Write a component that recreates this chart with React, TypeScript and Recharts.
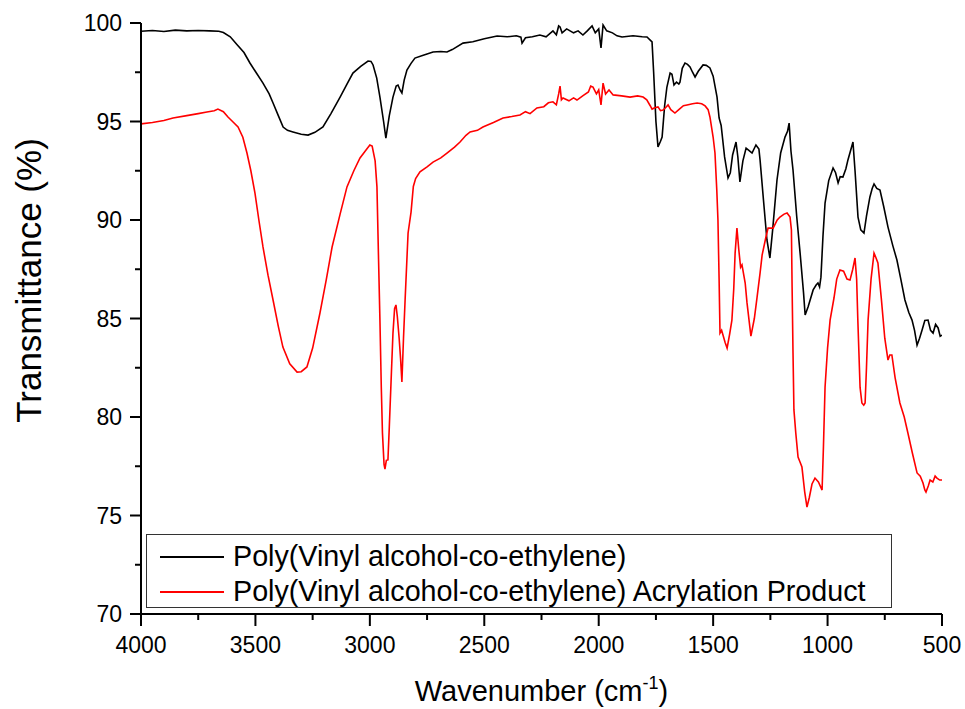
import { LineChart, Line, XAxis, YAxis, Legend } from "recharts";

// FTIR spectra (wavenumber in cm-1, transmittance in %)
const blackWave = [
  4000, 3950, 3900, 3850, 3800, 3750, 3700, 3660, 3640, 3610, 3580, 3550, 3524, 3495, 3467, 3440, 3423, 3400,
  3379, 3360, 3336, 3300, 3270, 3240, 3205, 3170, 3130, 3100, 3074, 3040, 3008, 2995, 2986, 2970, 2956, 2940,
  2930, 2915, 2899, 2885, 2877, 2868, 2860, 2850, 2838, 2820, 2803, 2770, 2724, 2690, 2663, 2640, 2593, 2550,
  2500, 2444, 2400, 2360, 2340, 2335, 2320, 2290, 2257, 2230, 2200, 2185, 2175, 2169, 2160, 2140, 2110, 2090,
  2069, 2050, 2029, 2015, 2000, 1990, 1981, 1965, 1940, 1920, 1898, 1850, 1810, 1789, 1767, 1760, 1750, 1741,
  1730, 1723, 1712, 1702, 1688, 1680, 1671, 1660, 1650, 1645, 1635, 1623, 1612, 1601, 1590, 1579, 1565, 1544,
  1530, 1514, 1500, 1483, 1474, 1465, 1450, 1435, 1425, 1415, 1400, 1392, 1383, 1370, 1356, 1340, 1330, 1313,
  1300, 1295, 1280, 1265, 1252, 1240, 1221, 1205, 1186, 1175, 1168, 1160, 1151, 1135, 1120, 1105, 1098, 1085,
  1063, 1050, 1042, 1035, 1029, 1020, 1011, 995, 976, 965, 954, 945, 933, 920, 911, 900, 889, 880, 867, 855,
  841, 830, 815, 805, 797, 785, 771, 755, 736, 715, 697, 680, 662, 645, 631, 620, 609, 598, 587, 575, 561, 550,
  539, 528, 517, 508, 500,
];
const blackT = [
  99.58, 99.62, 99.57, 99.64, 99.6, 99.62, 99.6, 99.58, 99.52, 99.3, 98.9, 98.5, 97.97, 97.45, 96.95, 96.4, 95.94, 95.3,
  94.72, 94.55, 94.47, 94.35, 94.31, 94.45, 94.72, 95.4, 96.24, 96.9, 97.46, 97.8, 98.07, 98.05, 97.87, 97.2, 96.24, 95.0,
  94.16, 95.3, 96.24, 96.8, 96.85, 96.6, 96.45, 97.1, 97.61, 97.95, 98.22, 98.35, 98.53, 98.55, 98.53, 98.65, 98.98, 99.05,
  99.2, 99.34, 99.3, 99.35, 99.28, 98.98, 99.25, 99.3, 99.39, 99.3, 99.6, 99.4, 99.85, 99.8, 99.5, 99.7, 99.5, 99.6,
  99.39, 99.6, 99.85, 99.5, 99.7, 98.73, 99.9, 99.6, 99.5, 99.35, 99.29, 99.35, 99.3, 99.29, 99.04, 97.5, 95.0, 93.71,
  94.0, 94.21, 95.8, 96.75, 97.46, 97.4, 96.85, 97.0, 96.9, 97.0, 97.7, 97.97, 97.9, 97.77, 97.5, 97.26, 97.55, 97.87,
  97.85, 97.72, 97.3, 96.24, 95.18, 94.8, 93.2, 92.13, 92.4, 93.3, 93.96, 93.2, 91.93, 93.0, 93.65, 93.5, 93.4, 93.81,
  93.6, 93.05, 91.0, 89.0, 88.07, 89.5, 92.03, 93.4, 94.21, 94.5, 94.92, 93.5, 92.54, 90.2, 88.32, 86.3, 85.18, 85.6,
  86.45, 86.7, 86.8, 86.6, 87.1, 89.2, 90.86, 92.0, 92.64, 92.4, 91.88, 92.2, 92.18, 92.6, 93.05, 93.5, 93.96, 92.5, 90.15, 89.5,
  89.34, 90.2, 91.17, 91.6, 91.83, 91.6, 91.52, 90.7, 89.64, 88.7, 87.97, 87.0, 85.94, 85.3, 84.92, 84.4, 83.65, 84.0, 84.42, 84.9, 84.92, 84.4,
  84.26, 84.7, 84.52, 84.1, 84.16,
];

const redWave = [
  4000, 3950, 3900, 3860, 3800, 3750, 3712, 3680, 3664, 3640, 3620, 3600, 3576, 3555, 3537, 3520, 3502, 3485,
  3467, 3445, 3423, 3400, 3380, 3350, 3318, 3300, 3275, 3250, 3218, 3190, 3165, 3130, 3100, 3070, 3043, 3020,
  3000, 2990, 2977, 2969, 2962, 2956, 2950, 2945, 2938, 2934, 2928, 2921, 2915, 2905, 2899, 2892, 2886, 2880,
  2872, 2866, 2860, 2853, 2846, 2833, 2820, 2810, 2800, 2781, 2750, 2724, 2690, 2663, 2630, 2606, 2580, 2562,
  2530, 2506, 2460, 2418, 2380, 2344, 2320, 2300, 2270, 2240, 2220, 2200, 2185, 2175, 2169, 2163, 2156, 2130,
  2110, 2095, 2070, 2045, 2035, 2025, 2010, 2000, 1990, 1981, 1970, 1955, 1937, 1900, 1863, 1830, 1806, 1790,
  1775, 1767, 1755, 1741, 1730, 1719, 1708, 1697, 1685, 1667, 1650, 1630, 1614, 1590, 1570, 1550, 1535, 1522,
  1514, 1500, 1492, 1484, 1479, 1474, 1470, 1463, 1457, 1448, 1439, 1428, 1418, 1410, 1404, 1396, 1388, 1380,
  1374, 1360, 1352, 1335, 1320, 1308, 1295, 1286, 1270, 1260, 1238, 1220, 1208, 1190, 1177, 1164, 1158, 1155,
  1151, 1147, 1139, 1129, 1120, 1112, 1100, 1090, 1080, 1068, 1055, 1040, 1024, 1018, 1011, 1000, 989, 972,
  960, 946, 930, 915, 902, 890, 880, 873, 868, 863, 858, 850, 842, 836, 830, 823, 810, 797, 789, 780, 765, 750,
  736, 728, 719, 705, 684, 665, 649, 630, 609, 595, 583, 575, 570, 560, 552, 540, 530, 522, 510, 500,
];
const redT = [
  94.88, 94.95, 95.05, 95.18, 95.3, 95.4, 95.48, 95.55, 95.63, 95.5, 95.23, 95.0, 94.72, 94.2, 93.4, 92.5, 91.37, 90.0,
  88.63, 87.2, 85.94, 84.6, 83.55, 82.7, 82.28, 82.3, 82.54, 83.5, 85.28, 87.0, 88.63, 90.3, 91.68, 92.5, 93.15, 93.5,
  93.81, 93.75, 93.0, 91.68, 88.0, 84.92, 81.5, 79.2, 77.6, 77.36, 77.8, 77.82, 79.5, 82.5, 84.26, 85.5, 85.69, 85.1,
  84.0, 83.0, 81.78, 84.0, 85.94, 89.34, 90.4, 91.7, 92.1, 92.44, 92.7, 92.94, 93.15, 93.4, 93.7, 93.96, 94.3, 94.47,
  94.55, 94.72, 94.95, 95.18, 95.25, 95.33, 95.5, 95.4, 95.69, 95.75, 95.95, 96.0, 95.85, 96.4, 96.8, 96.1, 96.19, 96.05,
  96.2, 96.09, 96.3, 96.5, 96.8, 96.75, 96.4, 96.6, 95.84, 96.95, 96.4, 96.6, 96.35, 96.3, 96.24, 96.3, 96.24, 96.1,
  95.8, 95.63, 95.7, 95.74, 95.55, 95.58, 95.7, 95.84, 95.6, 95.43, 95.6, 95.8, 95.84, 95.9, 95.94, 95.9, 95.79, 95.6,
  95.23, 94.2, 93.4, 91.5, 90.0, 87.0, 84.26, 84.4, 84.16, 83.8, 83.5, 84.2, 84.92, 86.5, 88.32, 89.59, 88.5, 87.6,
  87.72, 86.8, 85.79, 84.11, 85.0, 86.09, 87.3, 88.22, 89.1, 89.59, 89.59, 90.0, 90.15, 90.3, 90.36, 90.15, 89.5, 86.6,
  83.25, 80.36, 79.2, 77.97, 77.7, 77.46, 76.2, 75.43, 75.9, 76.6, 76.9, 76.7, 76.29, 78.5, 81.52, 83.5, 84.92, 86.04,
  87.0, 87.46, 87.4, 87.0, 86.95, 87.5, 88.07, 87.0, 85.0, 83.25, 81.5, 80.71, 80.6, 80.71, 82.5, 84.92, 87.0, 88.32, 88.1, 87.82, 86.0, 84.0,
  82.89, 83.15, 83.15, 82.0, 80.71, 80.0, 79.19, 78.2, 77.16, 77.0, 76.65, 76.3, 76.19, 76.5, 76.8, 76.7, 77.0, 76.9, 76.8, 76.8,
];

const seriesNames = [
  "Poly(Vinyl alcohol-co-ethylene)",
  "Poly(Vinyl alcohol-co-ethylene) Acrylation Product",
];
const xTicks = [4000, 3750, 3500, 3250, 3000, 2750, 2500, 2250, 2000, 1750, 1500, 1250, 1000, 750, 500];
const yTicks = [70, 72.5, 75, 77.5, 80, 82.5, 85, 87.5, 90, 92.5, 95, 97.5, 100];

const blackData = blackWave.map((w, i) => ({ w, t: blackT[i] }));
const redData = redWave.map((w, i) => ({ w, t: redT[i] }));

const FONT = '"Liberation Sans", Arial, sans-serif';

function XTick({ x, y, payload }: any) {
  const major = payload.value % 500 === 0;
  return (
    <g>
      <line x1={x} x2={x} y1={y} y2={y + (major ? 12 : 6)} stroke="#000" strokeWidth={2} />
      {major && (
        <text x={x} y={y + 39} textAnchor="middle" fontSize={23} fontFamily={FONT} fill="#000">
          {payload.value}
        </text>
      )}
    </g>
  );
}

function YTick({ x, y, payload }: any) {
  const major = payload.value % 5 === 0;
  return (
    <g>
      <line x1={x} x2={x - (major ? 11 : 6)} y1={y} y2={y} stroke="#000" strokeWidth={2} />
      {major && (
        <text x={x - 19} y={y} dy="0.35em" textAnchor="end" fontSize={23} fontFamily={FONT} fill="#000">
          {payload.value}
        </text>
      )}
    </g>
  );
}

function XTitle({ viewBox }: any) {
  const { x, y, width } = viewBox;
  return (
    <text x={x + width / 2} y={y + 87} textAnchor="middle" fontSize={29} fontFamily={FONT} fill="#000">
      Wavenumber (cm
      <tspan dy={-12} fontSize={18}>-1</tspan>
      <tspan dy={12}>)</tspan>
    </text>
  );
}

function YTitle({ viewBox }: any) {
  const { y, height } = viewBox;
  const cy = y + height / 2 - 38;
  return (
    <text
      x={41}
      y={cy}
      transform={`rotate(-90 41 ${cy})`}
      textAnchor="middle"
      fontSize={35}
      fontFamily={FONT}
      fill="#000"
    >
      Transmittance (%)
    </text>
  );
}

function LegendBox({ payload }: any) {
  return (
    <div
      style={{
        width: 746,
        height: 74,
        boxSizing: "border-box",
        border: "1.5px solid #333",
        background: "#fff",
        paddingTop: 4,
        fontFamily: FONT,
        fontSize: 28.7,
        color: "#000",
      }}
    >
      {(payload || []).map((p: any) => (
        <div key={p.value} style={{ display: "flex", alignItems: "center", height: 35, whiteSpace: "nowrap" }}>
          <span style={{ display: "inline-block", width: 64, borderTop: `2px solid ${p.color}`, margin: "0 9px 0 13px" }} />
          {p.value}
        </div>
      ))}
    </div>
  );
}

export default function App() {
  return (
    <div style={{ position: "absolute", left: 0, top: 0, width: 965, height: 709, background: "#fff" }}>
      <LineChart width={965} height={709} margin={{ top: 23, right: 23, bottom: 0, left: 0 }}>
        <XAxis
          dataKey="w"
          type="number"
          domain={[500, 4000]}
          reversed
          ticks={xTicks}
          interval={0}
          height={95}
          tickSize={0}
          tickMargin={0}
          tickLine={false}
          axisLine={{ stroke: "#000", strokeWidth: 2 }}
          tick={<XTick />}
          label={<XTitle />}
          allowDataOverflow
        />
        <YAxis
          type="number"
          domain={[70, 100]}
          ticks={yTicks}
          interval={0}
          width={141}
          tickSize={0}
          tickMargin={0}
          tickLine={false}
          axisLine={{ stroke: "#000", strokeWidth: 2 }}
          tick={<YTick />}
          label={<YTitle />}
          allowDataOverflow
        />
        <Legend
          layout="horizontal"
          verticalAlign="middle"
          align="center"
          wrapperStyle={{ left: 146, top: 534, width: 746, height: 74 }}
          content={<LegendBox />}
        />
        <Line
          data={blackData}
          dataKey="t"
          name={seriesNames[0]}
          type="linear"
          stroke="#000000"
          strokeWidth={1.6}
          dot={false}
          isAnimationActive={false}
        />
        <Line
          data={redData}
          dataKey="t"
          name={seriesNames[1]}
          type="linear"
          stroke="#ff0000"
          strokeWidth={1.6}
          dot={false}
          isAnimationActive={false}
        />
      </LineChart>
    </div>
  );
}
